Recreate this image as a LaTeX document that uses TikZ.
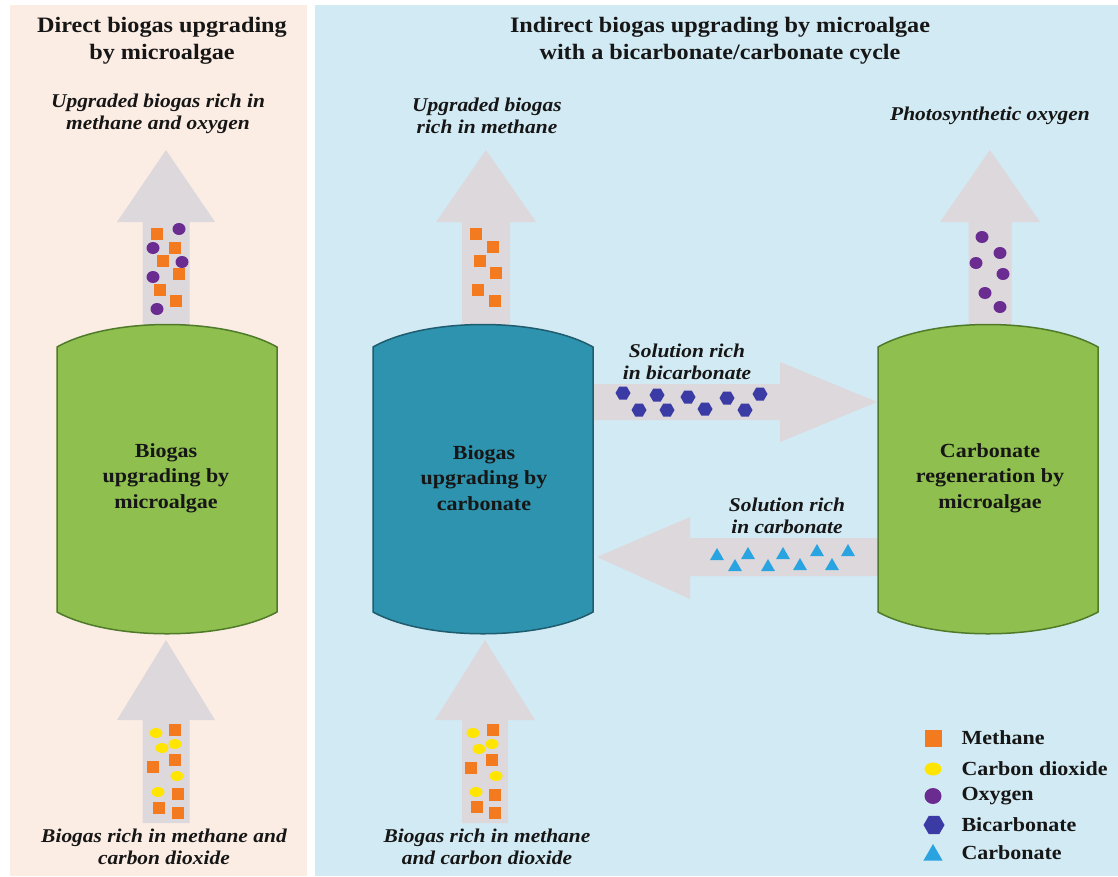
\documentclass[tikz,border=0pt]{standalone}
\usepackage{fontspec}
\setmainfont{Liberation Serif}[FakeStretch=1.1]
\usetikzlibrary{shapes.geometric}

\definecolor{peachbg}{HTML}{FCEDE4}
\definecolor{bluebg}{HTML}{D2EAF3}
\definecolor{algae}{HTML}{8FBF4E}
\definecolor{algaeedge}{HTML}{4F7A2A}
\definecolor{teal}{HTML}{2E93AE}
\definecolor{tealedge}{HTML}{1F5C6E}
\definecolor{flowgrey}{HTML}{DCD8DC}
\definecolor{methanec}{HTML}{F47A20}
\definecolor{co2c}{HTML}{FFE500}
\definecolor{oxyc}{HTML}{6B2C91}
\definecolor{bicarbc}{HTML}{3B3BA6}
\definecolor{carbc}{HTML}{2AA4E0}
\definecolor{ink}{HTML}{161616}

\tikzset{
  methane/.style={rectangle, fill=methanec, minimum size=12, inner sep=0},
  co2/.style={ellipse, fill=co2c, minimum width=13, minimum height=10, inner sep=0},
  oxy/.style={ellipse, fill=oxyc, minimum width=13, minimum height=12, inner sep=0},
  bicarb/.style={regular polygon, regular polygon sides=6, fill=bicarbc, minimum size=15, inner sep=0},
  carb/.style={regular polygon, regular polygon sides=3, fill=carbc, minimum size=16, inner sep=0},
  heading/.style={text=ink, align=center, font=\fontsize{22}{27}\selectfont\bfseries},
  flowlabel/.style={text=ink, align=center, font=\fontsize{19.5}{22}\selectfont\bfseries\itshape},
  tanklabel/.style={text=ink, align=center, font=\fontsize{20}{25.5}\selectfont\bfseries},
  keylabel/.style={text=ink, anchor=west, font=\fontsize{20}{22}\selectfont\bfseries},
  flow/.style={fill=flowgrey},
}

% vertical block arrow: centre x, apex y, head base y, tail y, head half width, shaft half width
\newcommand\upflow[6]{%
  \fill[flow] (#1-#6,#4) -- (#1-#6,#3) -- (#1-#5,#3) -- (#1,#2)
    -- (#1+#5,#3) -- (#1+#6,#3) -- (#1+#6,#4) -- cycle;}
% tank: left x, right x, fill, edge
\newcommand\tank[4]{%
  \draw[fill=#3, draw=#4, line width=1.5]
    (#1,347) .. controls (#1+53,317) and (#2-53,317) .. (#2,347)
    -- (#2,612) .. controls (#2-53,641) and (#1+53,641) .. (#1,612) -- cycle;}

\begin{document}
\begin{tikzpicture}[x=1pt,y=-1pt]
\useasboundingbox (0,0) rectangle (1118,876);
\fill[white] (0,0) rectangle (1118,876);
\fill[peachbg] (10,5) rectangle (307,876);
\fill[bluebg] (315,5) rectangle (1118,876);

% headings
\node[heading] (hdirect) at (162,41) {Direct biogas upgrading\\by microalgae};
\node[heading] (hindirect) at (720,41) {Indirect biogas upgrading by microalgae\\with a bicarbonate/carbonate cycle};

% gas flows
\upflow{166}{150}{222}{330}{49}{23.5}
\upflow{166}{640}{720}{823}{49}{23.5}
\upflow{486}{150}{222}{330}{50}{24}
\upflow{485}{640}{720}{823}{50}{23}
\upflow{990}{150}{222}{330}{50}{21.5}

% liquid flows between the tanks
\fill[flow] (590,384) -- (780,384) -- (780,362) -- (877,402) -- (780,442) -- (780,420) -- (590,420) -- cycle;
\fill[flow] (880,538) -- (690,538) -- (690,517) -- (597,557) -- (690,599) -- (690,576) -- (880,576) -- cycle;

% tanks
\tank{57}{277}{algae}{algaeedge}
\tank{373}{593}{teal}{tealedge}
\tank{878}{1098}{algae}{algaeedge}

\node[tanklabel] (tdirect) at (166,478) {Biogas\\upgrading by\\microalgae};
\node[tanklabel] (tcarbonate) at (484,478) {Biogas\\upgrading by\\carbonate};
\node[tanklabel] (tregen) at (990,478) {Carbonate\\regeneration by\\microalgae};

% flow labels
\node[flowlabel] (lout1) at (158,114) {Upgraded biogas rich in\\methane and oxygen};
\node[flowlabel] (lout2) at (487,116) {Upgraded biogas\\rich in methane};
\node[flowlabel] (lout3) at (990,116) {Photosynthetic oxygen};
\node[flowlabel] (lin1) at (164,847) {Biogas rich in methane and\\carbon dioxide};
\node[flowlabel] (lin2) at (487,847) {Biogas rich in methane\\and carbon dioxide};
\node[flowlabel] (lbicarb) at (687,362) {Solution rich\\in bicarbonate};
\node[flowlabel] (lcarb) at (787,516) {Solution rich\\in carbonate};

% molecules in the direct upgrading outlet
\foreach \x/\y [count=\i] in {157/234,175/248,163/261,179/274,160/290,176/301}
  \node[methane] (ma\i) at (\x,\y) {};
\foreach \x/\y [count=\i] in {179/229,153/248,182/262,153/277,157/309}
  \node[oxy] (oa\i) at (\x,\y) {};
% molecules in the direct upgrading inlet
\foreach \x/\y [count=\i] in {156/733,162/748,175/744,177/776,158/792}
  \node[co2] (ca\i) at (\x,\y) {};
\foreach \x/\y [count=\i] in {175/730,175/760,153/767,178/794,159/808,178/813}
  \node[methane] (mb\i) at (\x,\y) {};
% carbonate column outlet and inlet
\foreach \x/\y [count=\i] in {476/234,493/247,480/261,496/273,478/290,495/301}
  \node[methane] (mc\i) at (\x,\y) {};
\foreach \x/\y [count=\i] in {473/733,479/749,492/744,496/776,476/792}
  \node[co2] (cb\i) at (\x,\y) {};
\foreach \x/\y [count=\i] in {493/730,492/760,471/768,495/795,477/807,495/813}
  \node[methane] (md\i) at (\x,\y) {};
% photosynthetic oxygen
\foreach \x/\y [count=\i] in {982/237,1000/253,976/263,1003/274,985/293,1000/307}
  \node[oxy] (ob\i) at (\x,\y) {};
% bicarbonate and carbonate solutions
\foreach \x/\y [count=\i] in {623/393,657/395,688/397,727/398,760/394,639/410,667/410,705/409,745/410}
  \node[bicarb] (ba\i) at (\x,\y) {};
\foreach \x/\y [count=\i] in {717/556,748/555,783/555,817/552,848/552,735/567,768/567,800/566,832/566}
  \node[carb] (ka\i) at (\x,\y) {};

% key
\node[methane, minimum size=17] (kmeth) at (933,738) {};
\node[co2, minimum width=17, minimum height=13] (kco2) at (933,769) {};
\node[oxy, minimum width=17, minimum height=16] (koxy) at (933,796) {};
\node[bicarb, minimum size=21] (kbic) at (934,825) {};
\node[carb, minimum size=22] (kcarb) at (933,855) {};
\node[keylabel] (kmethl) at (958,738) {Methane};
\node[keylabel] (kco2l) at (958,769) {Carbon dioxide};
\node[keylabel] (koxyl) at (958,796) {Oxygen};
\node[keylabel] (kbicl) at (958,825) {Bicarbonate};
\node[keylabel] (kcarbl) at (958,853) {Carbonate};
\end{tikzpicture}
\end{document}
